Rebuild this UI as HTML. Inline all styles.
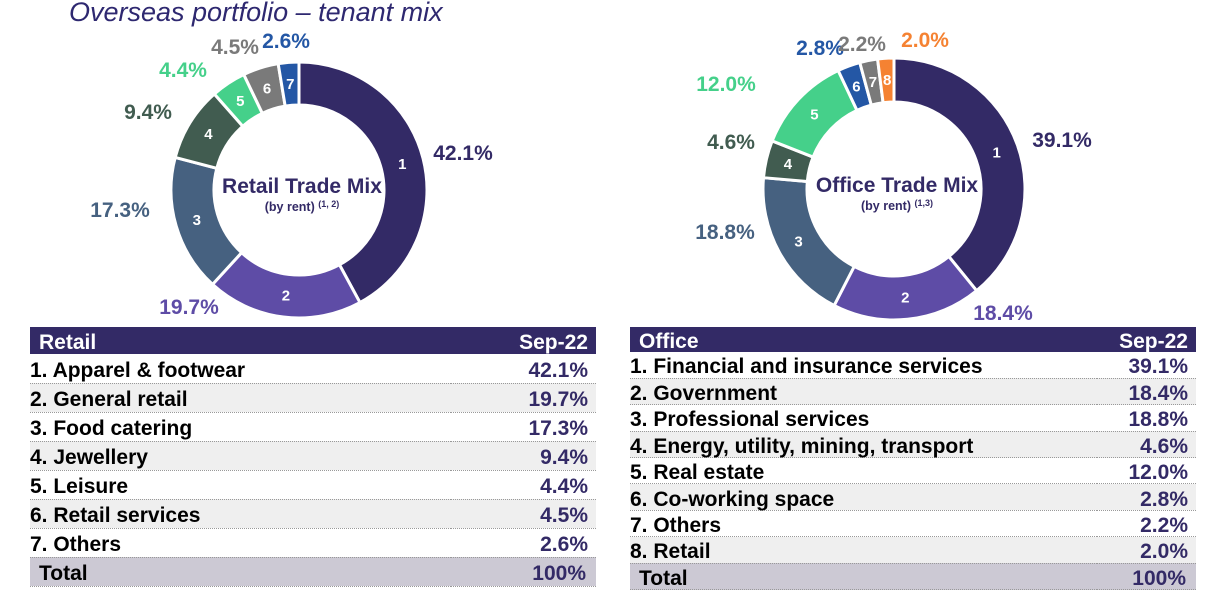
<!DOCTYPE html>
<html><head><meta charset="utf-8"><style>
body{margin:0;width:1208px;height:594px;background:#fff;overflow:hidden;font-family:"Liberation Sans",Arial,sans-serif;position:relative}
.title{position:absolute;left:69px;top:-3px;font-size:27px;font-style:italic;color:#2e2870}
svg{position:absolute;left:0;top:0}
.tbl{position:absolute;border-collapse:collapse;font-weight:bold;font-size:21px}
.tbl td{padding:4px 8px 0 0;border-bottom:1px dotted #999;line-height:1;white-space:nowrap}
.tbl td.v{text-align:right;color:#332a66}
.tbl tr.h td{background:#332a66;color:#fff;border:none}
.tbl tr.alt td{background:#efefef}
.tbl tr.tot td{background:#ccc9d4}
</style></head><body>
<div class="title">Overseas portfolio – tenant mix</div>
<svg id="chart" width="1208" height="594"></svg>

<table class="tbl" style="left:30px;top:327px;width:566px">
<tr class="h" style="height:27px"><td style="padding-left:9px">Retail</td><td class="v" style="color:#fff">Sep-22</td></tr>
<tr style="height:29px"><td>1. Apparel &amp; footwear</td><td class="v">42.1%</td></tr>
<tr class="alt" style="height:29px"><td>2. General retail</td><td class="v">19.7%</td></tr>
<tr style="height:29px"><td>3. Food catering</td><td class="v">17.3%</td></tr>
<tr class="alt" style="height:29px"><td>4. Jewellery</td><td class="v">9.4%</td></tr>
<tr style="height:29px"><td>5. Leisure</td><td class="v">4.4%</td></tr>
<tr class="alt" style="height:29px"><td>6. Retail services</td><td class="v">4.5%</td></tr>
<tr style="height:29px"><td>7. Others</td><td class="v">2.6%</td></tr>
<tr class="tot" style="height:29px"><td style="padding-left:9px">Total</td><td class="v" style="padding-right:10px">100%</td></tr>
</table>

<table class="tbl" style="left:630px;top:327px;width:566px">
<tr class="h" style="height:25px"><td style="padding-left:9px">Office</td><td class="v" style="color:#fff">Sep-22</td></tr>
<tr style="height:26.4px"><td>1. Financial and insurance services</td><td class="v">39.1%</td></tr>
<tr class="alt" style="height:26.4px"><td>2. Government</td><td class="v">18.4%</td></tr>
<tr style="height:26.4px"><td>3. Professional services</td><td class="v">18.8%</td></tr>
<tr class="alt" style="height:26.4px"><td>4. Energy, utility, mining, transport</td><td class="v">4.6%</td></tr>
<tr style="height:26.4px"><td>5. Real estate</td><td class="v">12.0%</td></tr>
<tr class="alt" style="height:26.4px"><td>6. Co-working space</td><td class="v">2.8%</td></tr>
<tr style="height:26.4px"><td>7. Others</td><td class="v">2.2%</td></tr>
<tr class="alt" style="height:26.4px"><td>8. Retail</td><td class="v">2.0%</td></tr>
<tr class="tot" style="height:26.4px"><td style="padding-left:9px">Total</td><td class="v" style="padding-right:10px">100%</td></tr>
</table>

<script>
const retailValues=[42.1,19.7,17.3,9.4,4.4,4.5,2.6];
const retailLabels=["42.1%","19.7%","17.3%","9.4%","4.4%","4.5%","2.6%"];
const officeValues=[39.1,18.4,18.8,4.6,12.0,2.8,2.2,2.0];
const officeLabels=["39.1%","18.4%","18.8%","4.6%","12.0%","2.8%","2.2%","2.0%"];
const retailColors=["#332a66","#5e4ca6","#466180","#415c50","#45d08a","#7a7a7a","#2457a5"];
const officeColors=["#332a66","#5e4ca6","#466180","#415c50","#45d08a","#2457a5","#7a7a7a","#f58232"];
const retailLabelPos=[[463,153],[189,307],[120,210],[148,112],[183,70],[235,47],[286,41]];
const officeLabelPos=[[1062,140],[1003,313],[725,232],[731,142],[726,84],[820,48],[862,44],[925,40]];
const NS="http://www.w3.org/2000/svg";
const svg=document.getElementById('chart');
function mk(t,a){const e=document.createElementNS(NS,t);for(const k in a)e.setAttribute(k,a[k]);svg.appendChild(e);return e;}
function pt(cx,cy,r,a){return [cx+r*Math.sin(a),cy-r*Math.cos(a)];}
function donut(name,cx,cy,ro,ri,vals,labels,cols,lpos,title,sub){
  const tot=vals.reduce((a,b)=>a+b,0);let acc=0;
  vals.forEach((v,i)=>{
    const a0=acc/tot*2*Math.PI,a1=(acc+v)/tot*2*Math.PI;acc+=v;
    const lg=(a1-a0)>Math.PI?1:0;
    const p0=pt(cx,cy,ro,a0),p1=pt(cx,cy,ro,a1),q1=pt(cx,cy,ri,a1),q0=pt(cx,cy,ri,a0);
    const p=mk('path',{d:`M${p0}A${ro},${ro} 0 ${lg} 1 ${p1}L${q1}A${ri},${ri} 0 ${lg} 0 ${q0}Z`,fill:cols[i],stroke:'#fff','stroke-width':3});
    
    
    const m=pt(cx,cy,(ro+ri)/2,(a0+a1)/2);
    const n=mk('text',{x:m[0],y:m[1]+5,'text-anchor':'middle','font-size':15,'font-weight':'bold',fill:'#fff'});
    n.textContent=i+1;
    
    
    const l=mk('text',{x:lpos[i][0],y:lpos[i][1]+7,'text-anchor':'middle','font-size':21,'font-weight':'bold',fill:cols[i]});
    l.textContent=labels[i];
    
    
  });
  const t=mk('text',{x:cx+3,y:cy+3,'text-anchor':'middle','font-size':21,'font-weight':'bold',fill:'#332a66'});
  t.textContent=title;
  
  
  const s=mk('text',{x:cx+3,y:cy+21,'text-anchor':'middle','font-size':12.5,'font-weight':'bold',fill:'#332a66'});
  s.innerHTML='(by rent) <tspan font-size="9" dy="-4">'+sub+'</tspan>';
  
  
}
donut('retail',299,190,128,85,retailValues,retailLabels,retailColors,retailLabelPos,'Retail Trade Mix','(1, 2)');
donut('office',894,189,131,87,officeValues,officeLabels,officeColors,officeLabelPos,'Office Trade Mix','(1,3)');
</script>
</body></html>
